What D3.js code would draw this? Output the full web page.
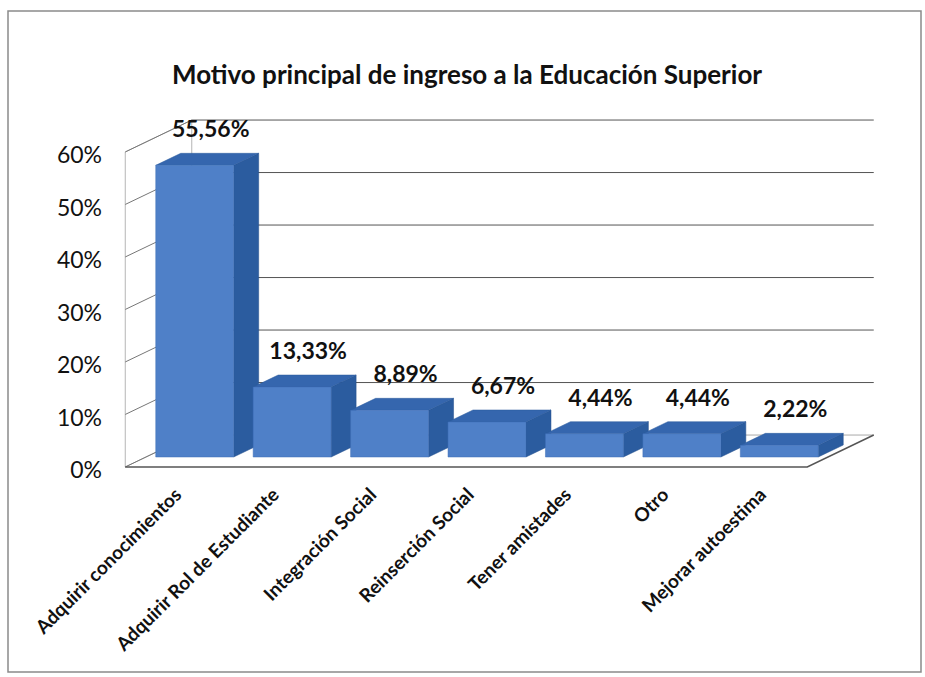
<!DOCTYPE html>
<html>
<head>
<meta charset="utf-8">
<script src="https://cdn.jsdelivr.net/npm/d3@7"></script>
<style>
  body { margin: 0; background: #fff; }
  text { font-family: Lato, "Open Sans", sans-serif; fill: #111; }
</style>
</head>
<body>
<svg width="925" height="677"></svg>
<script>
const categories = [
  'Adquirir conocimientos',
  'Adquirir Rol de Estudiante',
  'Integración Social',
  'Reinserción Social',
  'Tener amistades',
  'Otro',
  'Mejorar autoestima'
];
const values = [55.56, 13.33, 8.89, 6.67, 4.44, 4.44, 2.22];
const yTicks = [0, 10, 20, 30, 40, 50, 60];
const title = 'Motivo principal de ingreso a la Educación Superior';

const svg = d3.select('svg');
const width = +svg.attr('width');
const height = +svg.attr('height');

// spanish number format: 55,56%
const es = d3.formatLocale({ decimal: ',', thousands: '.', grouping: [3], currency: ['', '€'] });
const fmt = es.format('.2f');

// outer frame
svg.append('rect')
    .attr('x', 8).attr('y', 11)
    .attr('width', width - 12).attr('height', height - 16)
    .attr('fill', '#fff')
    .attr('stroke', '#8a8a8a')
    .attr('stroke-width', 1.5);

svg.append('text')
    .attr('x', 467).attr('y', 84)
    .attr('text-anchor', 'middle')
    .attr('font-size', 26)
    .attr('font-weight', 'bold')
    .text(title);

// front plane of the bars, depth goes up and to the right
const x = d3.scaleBand()
    .domain(categories)
    .range([146, 828])
    .paddingInner(0.2)
    .paddingOuter(0.1);
const y = d3.scaleLinear().domain([0, 60]).range([0, 315]);
const baseY = 457;
const depthX = 25;
const depthY = -12;
const floorFront = -0.83;
const floorBack = 1.83;

const pt = (px, d, v) => [px + d * depthX, baseY + d * depthY - y(v)];
const poly = pts => 'M' + pts.map(p => p.join(',')).join('L') + 'Z';

const left = x.range()[0];
const right = x.range()[1];
const g = svg.append('g');

// floor
g.append('path')
    .attr('d', poly([pt(left, floorFront, 0), pt(right, floorFront, 0), pt(right, floorBack, 0), pt(left, floorBack, 0)]))
    .attr('fill', '#fff')
    .attr('stroke', 'none');

// left wall edge
g.append('path')
    .attr('d', poly([pt(left, floorFront, 0), pt(left, floorFront, 60), pt(left, floorBack, 60), pt(left, floorBack, 0)]))
    .attr('fill', 'none')
    .attr('stroke', '#b5b5b5');

// gridlines: side wall diagonal + back wall horizontal
yTicks.forEach(t => {
  const a = pt(left, floorFront, t);
  const b = pt(left, floorBack, t);
  const c = pt(right, floorBack, t);
  g.append('line')
      .attr('x1', a[0]).attr('y1', a[1]).attr('x2', b[0]).attr('y2', b[1])
      .attr('stroke', '#777').attr('stroke-width', 1);
  g.append('line')
      .attr('x1', b[0]).attr('y1', b[1]).attr('x2', c[0]).attr('y2', c[1])
      .attr('stroke', t === 0 ? '#aaa' : '#555').attr('stroke-width', 1);
});

// floor front and right edges
const f1 = pt(left, floorFront, 0), f2 = pt(right, floorFront, 0), f3 = pt(right, floorBack, 0);
g.append('path')
    .attr('d', `M${f1}L${f2}L${f3}`)
    .attr('fill', 'none')
    .attr('stroke', '#555')
    .attr('stroke-width', 1.5);

// y axis labels
svg.selectAll('.ytick')
  .data(yTicks)
  .enter().append('text')
    .attr('class', 'ytick')
    .attr('x', 102)
    .attr('y', d => pt(left, floorFront, d)[1] + 3)
    .attr('dy', '0.35em')
    .attr('text-anchor', 'end')
    .attr('font-size', 23)
    .text(d => d + '%');

// bars
const bw = x.bandwidth();
const bars = g.selectAll('.bar')
  .data(values)
  .enter().append('g')
    .attr('class', 'bar');

bars.append('path')
    .attr('d', (d, i) => {
      const x0 = x(categories[i]) + bw;
      return poly([pt(x0, 0, 0), pt(x0, 1, 0), pt(x0, 1, d), pt(x0, 0, d)]);
    })
    .attr('fill', '#2b5c9f')
    .attr('stroke', '#234f8c').attr('stroke-width', 0.5);

bars.append('path')
    .attr('d', (d, i) => {
      const x0 = x(categories[i]);
      return poly([pt(x0, 0, d), pt(x0 + bw, 0, d), pt(x0 + bw, 1, d), pt(x0, 1, d)]);
    })
    .attr('fill', '#3566ae')
    .attr('stroke', '#2a5a9c').attr('stroke-width', 0.5);

bars.append('path')
    .attr('d', (d, i) => {
      const x0 = x(categories[i]);
      return poly([pt(x0, 0, 0), pt(x0 + bw, 0, 0), pt(x0 + bw, 0, d), pt(x0, 0, d)]);
    })
    .attr('fill', '#4f80c8')
    .attr('stroke', '#3f6fb6').attr('stroke-width', 0.5);

// value labels
svg.selectAll('.vlabel')
  .data(values)
  .enter().append('text')
    .attr('class', 'vlabel')
    .attr('x', (d, i) => x(categories[i]) + bw / 2 + 16)
    .attr('y', d => pt(0, 1, d)[1] - 16)
    .attr('text-anchor', 'middle')
    .attr('font-size', 23)
    .attr('font-weight', 'bold')
    .text(d => fmt(d) + '%');

// category labels
svg.selectAll('.xlabel')
  .data(categories)
  .enter().append('text')
    .attr('class', 'xlabel')
    .attr('transform', d => `translate(${x(d) + bw / 2 - 12}, 496) rotate(-45)`)
    .attr('text-anchor', 'end')
    .attr('font-size', 19)
    .attr('font-weight', 'bold')
    .text(d => d);
</script>
</body>
</html>
